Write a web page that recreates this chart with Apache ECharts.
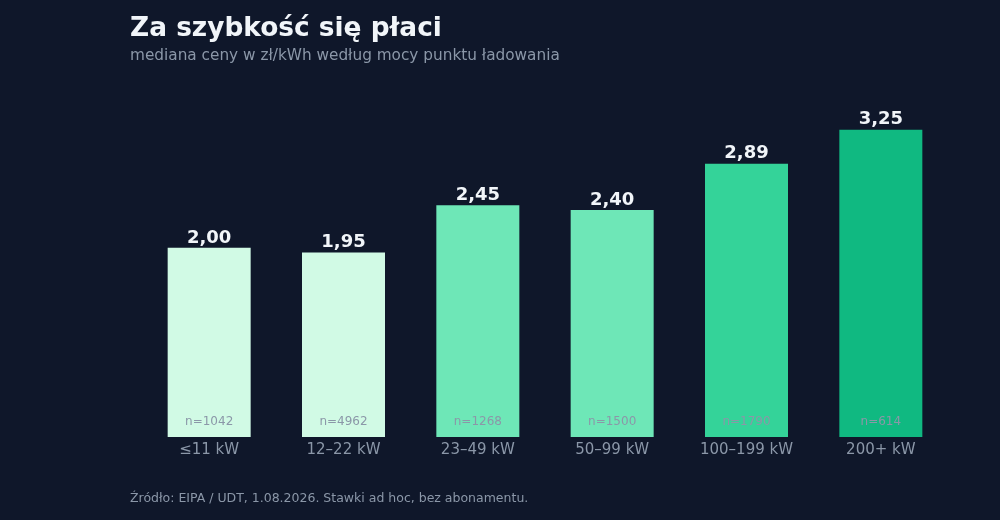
<!DOCTYPE html>
<html>
<head>
    <meta charset="utf-8">
    <title>Za szybkość się płaci</title>
    <script src="https://cdn.jsdelivr.net/npm/echarts@6/dist/echarts.min.js"></script>
    <style>
        html, body { margin: 0; padding: 0; background: #0f172a; }
        #chart { width: 1000px; height: 520px; }
    </style>
</head>
<body>
<div id="chart"></div>
<script>
    // dane: mediana ceny zł/kWh wg mocy punktu
    var categories = ['≤11 kW', '12–22 kW', '23–49 kW', '50–99 kW', '100–199 kW', '200+ kW'];
    var prices = [2.00, 1.95, 2.45, 2.40, 2.89, 3.25];
    var counts = [1042, 4962, 1268, 1500, 1790, 614];

    var barColors = ['#d1fae5', '#d1fae5', '#6ee7b7', '#6ee7b7', '#34d399', '#10b981'];

    function fmt(v) {
        return v.toFixed(2).replace('.', ',');
    }

    var chart = echarts.init(document.getElementById('chart'));
    chart.setOption({
        backgroundColor: '#0f172a',
        animation: false,
        textStyle: { fontFamily: 'DejaVu Sans' },
        title: [
            {
                text: 'Za szybkość się płaci',
                subtext: 'mediana ceny w zł/kWh według mocy punktu ładowania',
                left: 125,
                top: 11,
                itemGap: 7,
                textStyle: { color: '#f1f5f9', fontSize: 26.4, fontWeight: 'bold', fontFamily: 'DejaVu Sans' },
                subtextStyle: { color: '#8b97a8', fontSize: 15.3, fontFamily: 'DejaVu Sans' }
            },
            {
                text: 'Źródło: EIPA / UDT, 1.08.2026. Stawki ad hoc, bez abonamentu.',
                left: 125,
                top: 487,
                textStyle: { color: '#8b97a8', fontSize: 12.5, fontWeight: 'normal', fontFamily: 'DejaVu Sans' }
            }
        ],
        grid: { left: 142, right: 52, top: 106, bottom: 83 },
        xAxis: {
            type: 'category',
            data: categories,
            axisLine: { show: false },
            axisTick: { show: false },
            axisLabel: { color: '#8b97a8', fontSize: 15, margin: 6 }
        },
        yAxis: {
            type: 'value',
            min: 0,
            max: 3.5,
            show: false,
            splitLine: { show: false }
        },
        series: [
            {
                type: 'bar',
                barWidth: 83,
                data: prices.map(function (v, i) {
                    return { value: v, itemStyle: { color: barColors[i] } };
                }),
                label: {
                    show: true,
                    position: 'top',
                    distance: 1,
                    color: '#f1f5f9',
                    fontSize: 18,
                    fontWeight: 'bold',
                    formatter: function (p) { return fmt(p.value); }
                }
            },
            {
                type: 'bar',
                barWidth: 83,
                barGap: '-100%',
                silent: true,
                itemStyle: { color: 'rgba(0,0,0,0)' },
                data: prices,
                label: {
                    show: true,
                    position: 'insideBottom',
                    distance: 9,
                    color: '#8b97a8',
                    fontSize: 12,
                    formatter: function (p) { return 'n=' + counts[p.dataIndex]; }
                }
            }
        ]
    });
</script>
</body>
</html>
